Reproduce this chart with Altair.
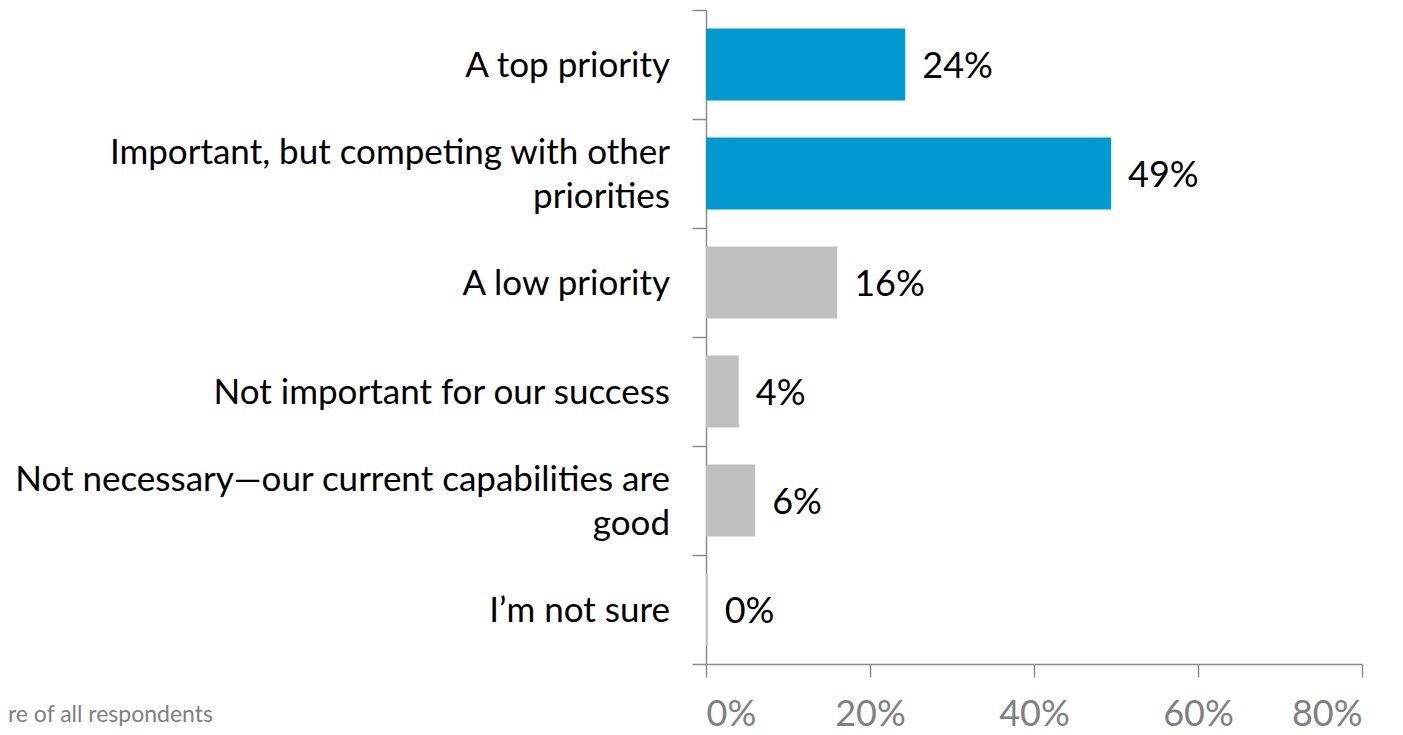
import altair as alt
import pandas as pd

categories = [
    "A top priority",
    "Important, but competing with other\npriorities",
    "A low priority",
    "Not important for our success",
    "Not necessary\u2014our current capabilities are\ngood",
    "I\u2019m not sure",
]
values = [0.243, 0.494, 0.160, 0.040, 0.060, 0.002]
groups = ["high", "high", "other", "other", "other", "other"]
x_ticks = [0, 0.2, 0.4, 0.6, 0.8]
footnote = "Share of all respondents"

df = pd.DataFrame({"cat": categories, "val": values, "grp": groups})
df["nlines"] = [c.count("\n") + 1 for c in categories]

FONT = "Lato"
y_enc = alt.Y(
    "cat:N",
    sort=categories,
    scale=alt.Scale(paddingInner=0, paddingOuter=0),
    axis=alt.Axis(
        labels=False,
        title=None,
        tickBand="extent",
        tickSize=14,
        tickColor="#8c8c8c",
        domainColor="#8c8c8c",
        tickWidth=1.5,
        domainWidth=1.5,
        grid=False,
    ),
)
x_enc = alt.X(
    "val:Q",
    scale=alt.Scale(domain=[0, 0.8], nice=False),
    axis=alt.Axis(
        values=x_ticks,
        format=".0%",
        title=None,
        grid=False,
        tickSize=13,
        tickColor="#8c8c8c",
        domainColor="#8c8c8c",
        tickWidth=1.5,
        domainWidth=1.5,
        labelFont=FONT,
        labelFontSize=36,
        labelColor="#808080",
        labelPadding=20,
        labelBaseline="top",
    ),
)

base = alt.Chart(df)

bars = base.mark_bar(height=alt.RelativeBandSize(0.66)).encode(
    x=x_enc,
    y=y_enc,
    color=alt.Color(
        "grp:N",
        scale=alt.Scale(domain=["high", "other"], range=["#0099D0", "#BFBFBF"]),
        legend=None,
    ),
)

vals = base.mark_text(
    align="left", baseline="middle", dx=17, dy=2, font=FONT, fontSize=36, color="#000000"
).encode(
    x="val:Q",
    y=alt.Y("cat:N", sort=categories),
    text=alt.Text("val:Q", format=".0%"),
)

cat_one = base.transform_filter("datum.nlines == 1").mark_text(
    align="right",
    baseline="middle",
    font=FONT,
    fontSize=35,
    color="#000000",
    dy=1,
).encode(
    x=alt.value(-36),
    y=alt.Y("cat:N", sort=categories),
    text="cat:N",
)

cat_two = base.transform_filter("datum.nlines == 2").mark_text(
    align="right",
    baseline="middle",
    font=FONT,
    fontSize=35,
    color="#000000",
    lineBreak="\n",
    lineHeight=44,
    dy=-21,
).encode(
    x=alt.value(-36),
    y=alt.Y("cat:N", sort=categories),
    text="cat:N",
)

foot = alt.Chart(pd.DataFrame({"t": [footnote]})).mark_text(
    align="right", baseline="middle", font=FONT, fontSize=23, color="#808080"
).encode(
    x=alt.value(-493),
    y=alt.value(705),
    text="t:N",
)

chart = (
    alt.layer(bars, vals, cat_one, cat_two, foot)
    .properties(
        width=656,
        height=654,
        autosize=alt.AutoSizeParams(type="none"),
        padding={"left": 698, "top": 2, "right": 33, "bottom": 63},
    )
    .configure_view(stroke=None)
)

chart.save("out.html", embed_options={"renderer": "svg", "actions": False})
